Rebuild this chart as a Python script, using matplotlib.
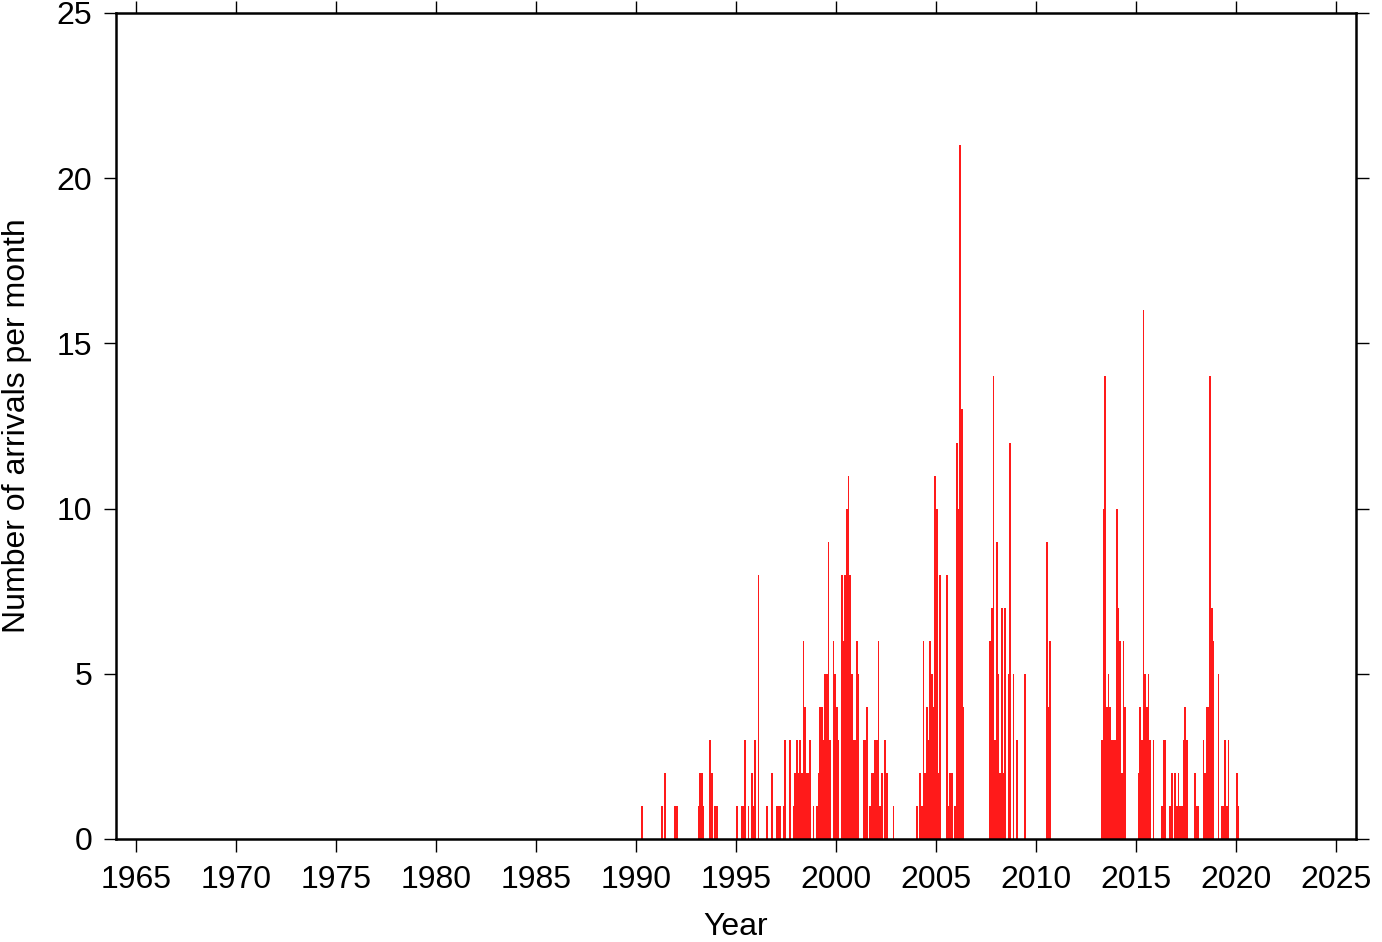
import matplotlib
matplotlib.use("Agg")
import matplotlib.pyplot as plt
import numpy as np

plt.rcParams['font.family'] = ['Liberation Sans', 'DejaVu Sans']

# Monthly arrivals (YYYY-MM) and counts
months = [
    "1990-04", "1991-04", "1991-06", "1991-12", "1992-01",
    "1993-02", "1993-03", "1993-04", "1993-05", "1993-09", "1993-10", "1993-12", "1994-01",
    "1995-01", "1995-04", "1995-05", "1995-06", "1995-08", "1995-10", "1995-11", "1995-12",
    "1996-02", "1996-07", "1996-10",
    "1997-01", "1997-02", "1997-03", "1997-05", "1997-06", "1997-09", "1997-11", "1997-12",
    "1998-01", "1998-02", "1998-03", "1998-04", "1998-05", "1998-06", "1998-07", "1998-08",
    "1998-09", "1998-11",
    "1999-01", "1999-02", "1999-03", "1999-04", "1999-05", "1999-06", "1999-07", "1999-08",
    "1999-09", "1999-11", "1999-12",
    "2000-01", "2000-02", "2000-04", "2000-05", "2000-06", "2000-07", "2000-08", "2000-09",
    "2000-10", "2000-11", "2000-12",
    "2001-01", "2001-02", "2001-05", "2001-06", "2001-07", "2001-09", "2001-10", "2001-11",
    "2001-12",
    "2002-01", "2002-02", "2002-03", "2002-04", "2002-06", "2002-07", "2002-11",
    "2004-01", "2004-03", "2004-04", "2004-05", "2004-06", "2004-07", "2004-08", "2004-09",
    "2004-10", "2004-11", "2004-12",
    "2005-01", "2005-02", "2005-03", "2005-07", "2005-08", "2005-09", "2005-10", "2005-12",
    "2006-01", "2006-02", "2006-03", "2006-04", "2006-05",
    "2007-09", "2007-10", "2007-11", "2007-12",
    "2008-01", "2008-02", "2008-03", "2008-04", "2008-05", "2008-06", "2008-08", "2008-09",
    "2008-11",
    "2009-01", "2009-06",
    "2010-07", "2010-08", "2010-09",
    "2013-04", "2013-05", "2013-06", "2013-07", "2013-08", "2013-09", "2013-10", "2013-11",
    "2013-12",
    "2014-01", "2014-02", "2014-03", "2014-04", "2014-05", "2014-06",
    "2015-02", "2015-03", "2015-04", "2015-05", "2015-06", "2015-07", "2015-08", "2015-09",
    "2015-11",
    "2016-04", "2016-05", "2016-06", "2016-09", "2016-10", "2016-12",
    "2017-01", "2017-02", "2017-03", "2017-04", "2017-05", "2017-06", "2017-07", "2017-12",
    "2018-01", "2018-02", "2018-05", "2018-06", "2018-07", "2018-08", "2018-09", "2018-10",
    "2018-11",
    "2019-02", "2019-04", "2019-05", "2019-06", "2019-07", "2019-08",
    "2020-01", "2020-02",
]
counts = [
    1, 1, 2, 1, 1,
    1, 2, 2, 1, 3, 2, 1, 1,
    1, 1, 1, 3, 1, 2, 1, 3,
    8, 1, 2,
    1, 1, 1, 1, 3, 3, 1, 2,
    3, 2, 3, 2, 6, 4, 2, 2,
    3, 1,
    1, 2, 4, 4, 3, 5, 5, 9,
    3, 6, 5,
    4, 3, 8, 6, 8, 10, 11, 8,
    5, 3, 3,
    6, 5, 3, 3, 4, 1, 2, 2,
    3,
    3, 6, 1, 2, 3, 2, 1,
    1, 2, 1, 6, 2, 4, 3, 6,
    5, 4, 11,
    10, 2, 8, 8, 1, 2, 2, 1,
    12, 10, 21, 13, 4,
    6, 7, 14, 3,
    9, 5, 2, 7, 2, 7, 5, 12,
    5,
    3, 5,
    9, 4, 6,
    3, 10, 14, 4, 5, 4, 3, 3,
    3,
    10, 7, 6, 2, 6, 4,
    2, 4, 3, 16, 5, 4, 5, 3,
    3,
    1, 3, 3, 1, 2, 2,
    1, 2, 1, 1, 3, 4, 3, 2,
    1, 1, 3, 2, 4, 4, 14, 7,
    6,
    5, 1, 1, 3, 1, 3,
    2, 1,
]

x_ticks = list(range(1965, 2030, 5))
y_ticks = [0, 5, 10, 15, 20, 25]

t = np.array([int(m[:4]) + (int(m[5:]) - 1) / 12.0 for m in months])

fig = plt.figure(figsize=(13.82, 9.42), dpi=100)
ax = fig.add_axes([116 / 1382, 1 - 839 / 942, (1356 - 116) / 1382, (839 - 13) / 942])

ax.bar(t, counts, width=0.9 / 12, align='edge', color='#ff1a1a', linewidth=0)

ax.set_xlim(1964, 2026)
ax.set_ylim(0, 25)
ax.set_xticks(x_ticks)
ax.set_yticks(y_ticks)

for s in ax.spines.values():
    s.set_linewidth(1.8)
    s.set_zorder(5)

ax.tick_params(axis='both', which='major', direction='out', length=9, width=1.0,
               labelsize=23, top=True, right=True, labeltop=False, labelright=False)
ax.tick_params(axis='x', pad=10)
ax.tick_params(axis='y', pad=8)

ax.set_xlabel("Year", fontsize=23, labelpad=12)
ax.set_ylabel("Number of arrivals per month", fontsize=23, labelpad=18)

fig.savefig("out.png", dpi=100)
